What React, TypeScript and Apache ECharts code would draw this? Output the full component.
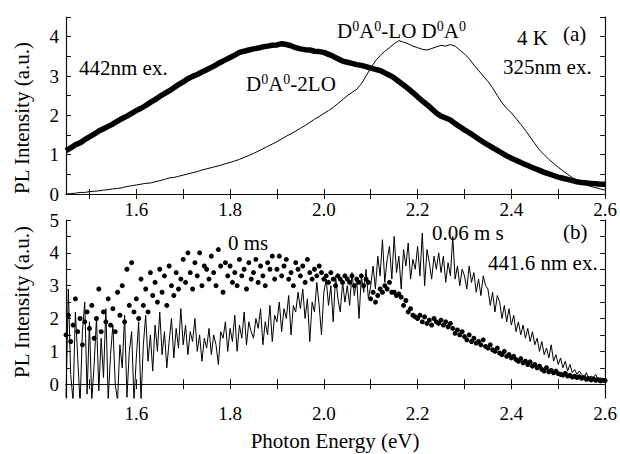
import React, { useEffect, useRef } from "react";
import * as echarts from "echarts";

// ---- Data ----
const TOP_E0 = 1.45;
const TOP_STEP = 0.01;
// (a) 442 nm excitation (thick)
const exc442 = [
  1.10, 1.17, 1.25, 1.30, 1.38, 1.45, 1.52, 1.60, 1.66, 1.72,
  1.78, 1.85, 1.92, 1.98, 2.05, 2.12, 2.18, 2.25, 2.33, 2.40,
  2.48, 2.55, 2.62, 2.70, 2.78, 2.85, 2.93, 2.99, 3.04, 3.10,
  3.16, 3.22, 3.28, 3.35, 3.41, 3.47, 3.53, 3.60, 3.63, 3.66,
  3.69, 3.71, 3.74, 3.76, 3.78, 3.79, 3.82, 3.80, 3.77, 3.72,
  3.69, 3.67, 3.66, 3.63, 3.62, 3.60, 3.55, 3.50, 3.44, 3.38,
  3.35, 3.32, 3.29, 3.27, 3.24, 3.20, 3.17, 3.14, 3.08, 3.02,
  2.95, 2.86, 2.77, 2.68, 2.58, 2.47, 2.37, 2.27, 2.17, 2.06,
  1.98, 1.93, 1.88, 1.79, 1.71, 1.63, 1.56, 1.48, 1.40, 1.32,
  1.25, 1.18, 1.11, 1.04, 0.97, 0.91, 0.86, 0.80, 0.75, 0.70,
  0.65, 0.60, 0.55, 0.51, 0.47, 0.43, 0.40, 0.37, 0.34, 0.31,
  0.29, 0.28, 0.27, 0.26, 0.25, 0.25,
];
// (a) 325 nm excitation (thin)
const exc325 = [
  0.00, 0.01, 0.02, 0.04, 0.04, 0.06, 0.07, 0.08, 0.10, 0.11,
  0.13, 0.14, 0.16, 0.19, 0.21, 0.23, 0.25, 0.27, 0.28, 0.31,
  0.34, 0.37, 0.41, 0.42, 0.45, 0.48, 0.51, 0.54, 0.57, 0.61,
  0.64, 0.67, 0.70, 0.73, 0.77, 0.80, 0.84, 0.88, 0.93, 0.98,
  1.03, 1.09, 1.15, 1.21, 1.27, 1.33, 1.40, 1.47, 1.53, 1.60,
  1.67, 1.74, 1.82, 1.90, 1.97, 2.05, 2.12, 2.20, 2.30, 2.40,
  2.50, 2.58, 2.66, 2.80, 3.00, 3.20, 3.38, 3.52, 3.63, 3.72,
  3.82, 3.90, 3.86, 3.82, 3.76, 3.72, 3.68, 3.66, 3.70, 3.74,
  3.78, 3.76, 3.80, 3.76, 3.66, 3.56, 3.44, 3.28, 3.14, 3.00,
  2.86, 2.70, 2.50, 2.32, 2.18, 2.06, 1.92, 1.77, 1.62, 1.45,
  1.28, 1.12, 1.00, 0.88, 0.78, 0.68, 0.59, 0.50, 0.42, 0.35,
  0.29, 0.23, 0.19, 0.16, 0.13, 0.10,
];

const BOT_E0 = 1.45;
const BOT_STEP = 0.005;
// (b) 0.06 ms (thin noisy line)
const delay006 = [
  -0.4, 2.9, 0.3, -0.5, 2.2, 0.8, -0.6, 1.6, 2.5, -0.3,
  1.9, -0.5, 0.6, 2.0, -0.2, 1.4, 0.2, 2.3, -0.5, 0.9,
  1.8, 0.0, -0.5, 1.2, 0.5, 2.1, -0.4, 1.0, 1.6, -0.5,
  0.8, 1.9, -0.5, 1.2, 2.1, 0.7, 1.5, 0.4, 1.8, 1.0,
  2.2, 0.9, 1.6, 0.5, 1.3, 2.0, 0.8, 1.7, 1.1, 2.3,
  1.2, 1.8, 0.9, 1.6, 1.3, 2.0, 1.0, 1.5, 0.7, 1.4,
  1.1, 1.7, 0.9, 1.5, 1.2, 0.6, 1.6, 1.4, 1.9, 1.0,
  1.7, 1.3, 2.1, 1.0, 1.8, 1.4, 2.2, 1.2, 1.9, 1.6,
  1.4, 2.0, 1.7, 2.3, 1.2, 1.9, 1.5, 2.4, 1.3, 2.1,
  1.9, 2.5, 1.6, 2.3, 2.0, 2.7, 1.5, 2.4, 2.2, 2.8,
  2.3, 2.9, 2.0, 2.6, 1.3, 2.5, 2.2, 3.1, 2.4, 1.5,
  2.8, 3.2, 2.4, 3.0, 1.9, 3.3, 2.6, 2.2, 3.1, 2.5,
  3.0, 2.4, 3.4, 2.7, 3.2, 2.0, 3.3, 2.8, 3.5, 2.6,
  3.0, 3.6, 2.9, 3.9, 3.3, 4.4, 3.1, 3.8, 4.2, 3.2,
  4.5, 3.4, 3.9, 2.9, 4.1, 3.6, 4.3, 3.2, 3.8, 3.5,
  4.2, 3.3, 4.6, 3.0, 4.1, 3.7, 3.2, 3.9, 3.5, 4.0,
  3.4, 3.9, 3.1, 3.7, 3.3, 4.5, 3.2, 3.6, 3.0, 3.5,
  3.3, 2.9, 3.6, 3.1, 3.4, 2.8, 3.2, 2.7, 3.3, 3.0,
  2.9, 2.4, 2.8, 2.2, 2.7, 2.5, 2.0, 2.4, 1.9, 2.3,
  1.8, 2.1, 1.6, 1.9, 1.5, 1.8, 1.4, 1.7, 1.3, 1.6,
  1.2, 1.4, 1.0, 1.3, 0.9, 1.1, 0.8, 1.2, 0.7, 0.9,
  0.6, 0.8, 0.5, 0.7, 0.4, 0.6, 0.35, 0.45, 0.3, 0.4,
  0.3, 0.2, 0.35, 0.15, 0.25, 0.2, 0.3, 0.12, 0.2, 0.15, 0.18,
];
// (b) 0 ms (dots)
const delay0 = [
  1.5, 2.1, 1.3, 1.8, 2.6, 1.6, 2.0, 1.2, 1.9, 2.2,
  1.7, 2.4, 1.4, 2.0, 2.9, 1.6, 2.2, 1.9, 2.6, 1.8,
  2.3, 1.6, 2.8, 2.1, 3.0, 1.9, 3.5, 2.4, 3.7, 2.2,
  2.6, 2.0, 3.2, 2.4, 2.9, 2.2, 3.4, 2.7, 3.1, 2.5,
  3.5, 2.8, 3.3, 2.4, 3.6, 3.0, 2.7, 3.4, 2.9, 3.2,
  3.8, 3.1, 4.0, 3.4, 2.9, 3.7, 3.3, 4.0, 3.0, 3.6,
  3.5, 3.2, 3.9, 3.4, 3.0, 4.1, 3.6, 2.8, 3.7, 3.3,
  3.6, 3.1, 3.4, 3.0, 3.8, 3.3, 3.5, 2.9, 3.7, 3.2,
  3.4, 3.8, 3.1, 3.6, 3.3, 3.0, 3.7, 3.5, 3.9, 3.2,
  3.5, 3.9, 3.3, 3.6, 3.8, 3.2, 3.4, 3.0, 3.7, 3.5,
  3.3, 3.6, 3.1, 3.8, 3.4, 3.2, 3.5, 3.3, 3.6, 3.4,
  3.2, 3.3, 3.1, 3.4, 3.2, 3.0, 3.3, 3.2, 3.1, 3.3,
  3.2, 3.1, 3.3, 3.0, 3.2, 3.1, 3.3, 3.0, 3.2, 3.1,
  2.6, 2.8, 2.5, 2.7, 2.9, 2.8, 3.0, 2.9, 3.1, 2.8,
  2.8, 2.7, 2.75, 2.65, 2.4, 2.55, 2.2, 2.3, 2.1, 2.05,
  2.0, 2.1, 1.9, 2.05, 1.85, 1.95, 1.8, 2.0, 1.9, 1.85,
  1.95, 1.8, 1.9, 1.75, 1.85, 1.7, 1.55, 1.65, 1.5, 1.6,
  1.45, 1.35, 1.5, 1.3, 1.4, 1.25, 1.3, 1.2, 1.35, 1.15,
  1.1, 1.2, 1.05, 1.0, 1.1, 0.95, 0.9, 1.0, 0.85, 0.9,
  0.8, 0.85, 0.75, 0.7, 0.78, 0.65, 0.7, 0.6, 0.68, 0.55,
  0.6, 0.5, 0.55, 0.45, 0.4, 0.5, 0.38, 0.42, 0.35, 0.4,
  0.32, 0.3, 0.28, 0.33, 0.25, 0.27, 0.22, 0.24, 0.2, 0.23,
  0.18, 0.2, 0.15, 0.17, 0.13, 0.16, 0.12, 0.14, 0.1, 0.12, 0.11,
];

const xLabels = [1.6, 1.8, 2.0, 2.2, 2.4, 2.6];
const xTicks = [1.5, 1.6, 1.7, 1.8, 1.9, 2.0, 2.1, 2.2, 2.3, 2.4, 2.5, 2.6];
const yTopLabels = [0, 1, 2, 3, 4];
const yTopTicks = [0, 0.5, 1, 1.5, 2, 2.5, 3, 3.5, 4, 4.5];
const yBotLabels = [0, 1, 2, 3, 4, 5];
const yBotTicks = [0, 0.5, 1, 1.5, 2, 2.5, 3, 3.5, 4, 4.5, 5];

const toPairs = (e0: number, step: number, vals: number[]) =>
  vals.map((v, i) => [+(e0 + i * step).toFixed(4), v]);

const FONT = "Liberation Serif";

export default function App() {
  const ref = useRef<HTMLDivElement>(null);
  useEffect(() => {
    if (!ref.current) return;
    const chart = echarts.init(ref.current, null, { renderer: "svg" });
    const axisLine = { show: true, lineStyle: { color: "#111", width: 1.2 } };
    const tick = (vals: number[]) => ({
      show: true, inside: true, length: 5, customValues: vals,
      lineStyle: { color: "#111", width: 1 },
    });
    const xAx = (grid: number, pos: string, labels: boolean) => ({
      type: "value", gridIndex: grid, position: pos, min: 1.45, max: 2.6,
      axisLine, axisTick: tick(xTicks), splitLine: { show: false },
      axisLabel: labels
        ? { show: true, customValues: xLabels, formatter: (v: number) => v.toFixed(1),
            fontFamily: FONT, fontSize: 19, color: "#000", margin: 6 }
        : { show: false },
    });
    const yAx = (grid: number, pos: string, labels: boolean, min: number, max: number, lv: number[], tv: number[]) => ({
      type: "value", gridIndex: grid, position: pos, min, max,
      axisLine, axisTick: tick(tv), splitLine: { show: false },
      axisLabel: labels
        ? { show: true, customValues: lv, formatter: (v: number) => String(Math.round(v)),
            fontFamily: FONT, fontSize: 19, color: "#000", margin: 7 }
        : { show: false },
    });
    const sup = { fontSize: 14, fontFamily: FONT, padding: [0, 0, 9, 0] };
    const txt = (text: string, x: number, y: number, extra: any = {}) => ({
      type: "text", x, y, z: 100,
      style: {
        text, fill: "#000", fontFamily: FONT, fontSize: 21,
        textAlign: "left", align: "left", textVerticalAlign: "middle", verticalAlign: "middle",
        rich: { s: sup },
        ...extra,
      },
    });
    const vtitle = (y: number) => ({
      type: "text", x: 22, y, rotation: Math.PI / 2, z: 100,
      style: { text: "PL Intensity (a.u.)", fill: "#000", fontFamily: FONT, fontSize: 21,
        textAlign: "center", align: "center", textVerticalAlign: "middle", verticalAlign: "middle" },
    });
    chart.setOption({
      animation: false,
      backgroundColor: "#fff",
      grid: [
        { left: 66, top: 17, right: 13, height: 177 },
        { left: 66, top: 220, right: 13, height: 178 },
      ],
      xAxis: [xAx(0, "bottom", true), xAx(0, "top", false), xAx(1, "bottom", true), xAx(1, "top", false)],
      yAxis: [
        yAx(0, "left", true, 0, 4.5, yTopLabels, yTopTicks),
        yAx(0, "right", false, 0, 4.5, yTopLabels, yTopTicks),
        yAx(1, "left", true, -0.42, 5, yBotLabels, yBotTicks),
        yAx(1, "right", false, -0.42, 5, yBotLabels, yBotTicks),
      ],
      series: [
        {
          type: "line", xAxisIndex: 0, yAxisIndex: 0, showSymbol: false, symbol: "none",
          data: toPairs(TOP_E0, TOP_STEP, exc325), lineStyle: { color: "#000", width: 1 },
        },
        {
          type: "line", xAxisIndex: 0, yAxisIndex: 0, showSymbol: false, symbol: "none",
          data: toPairs(TOP_E0, TOP_STEP, exc442), lineStyle: { color: "#000", width: 5.5 },
        },
        {
          type: "scatter", xAxisIndex: 2, yAxisIndex: 2, symbolSize: 5,
          data: toPairs(BOT_E0, BOT_STEP, delay0), itemStyle: { color: "#000", opacity: 1 },
        },
        {
          type: "line", xAxisIndex: 2, yAxisIndex: 2, showSymbol: false, symbol: "none",
          data: toPairs(BOT_E0, BOT_STEP, delay006), lineStyle: { color: "#000", width: 1 },
        },
      ],
      graphic: [
        txt("442nm ex.", 79, 68),
        txt("D{s|0}A{s|0}-2LO", 246, 84),
        txt("D{s|0}A{s|0}-LO D{s|0}A{s|0}", 337, 31),
        txt("4 K", 517, 38),
        txt("(a)", 563, 34),
        txt("325nm ex.", 503, 67),
        txt("0 ms", 228, 243),
        txt("0.06 m s", 432, 233),
        txt("(b)", 563, 232),
        txt("441.6 nm ex.", 488, 263),
        txt("Photon Energy (eV)", 335, 441, { textAlign: "center", align: "center" }),
        vtitle(118),
        vtitle(302),
      ],
    });
    return () => chart.dispose();
  }, []);
  return (
    <div
      ref={ref}
      style={{ position: "fixed", left: 0, top: 0, width: 620, height: 454, background: "#fff" }}
    />
  );
}
